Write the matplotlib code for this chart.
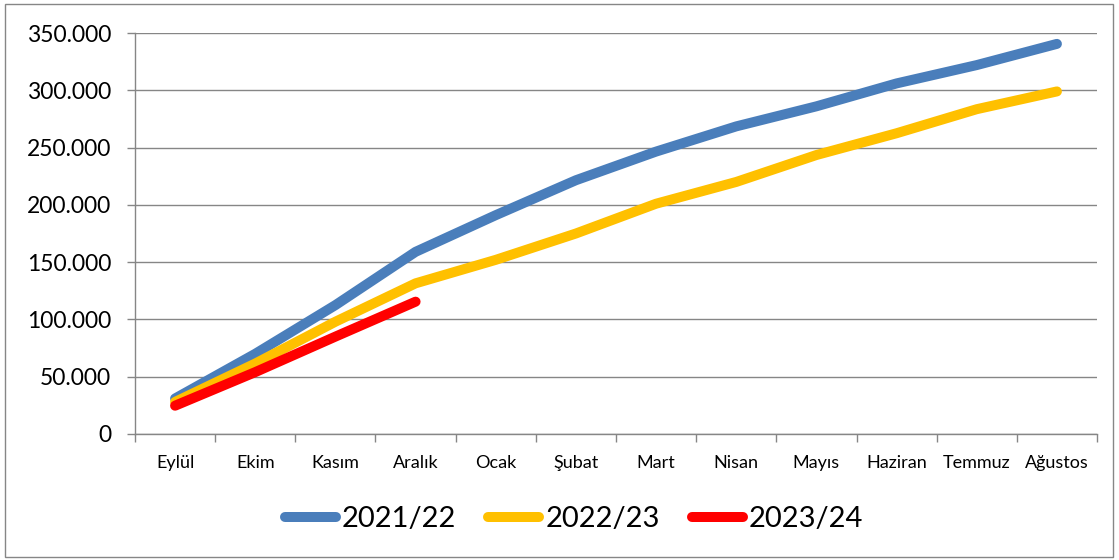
import matplotlib
matplotlib.use("Agg")
import matplotlib.pyplot as plt
from matplotlib.ticker import FuncFormatter, FixedLocator
from matplotlib.patches import Rectangle

plt.rcParams['font.family'] = ['Lato', 'DejaVu Sans']

months = ["Eylül", "Ekim", "Kasım", "Aralık", "Ocak", "Şubat", "Mart",
          "Nisan", "Mayıs", "Haziran", "Temmuz", "Ağustos"]
s2122 = [31000, 70000, 112500, 159000, 191000, 221500, 246500, 268500,
         286000, 306000, 322000, 340500]
s2223 = [28000, 61500, 98000, 131500, 152000, 175000, 201000, 220000,
         243500, 262500, 283500, 299000]
s2324 = [24700, 54000, 85000, 115500]
labels = ["2021/22", "2022/23", "2023/24"]
colors = ["#4a7ebb", "#ffc000", "#ff0000"]

fig = plt.figure(figsize=(11.19, 5.6), dpi=100)
ax = fig.add_axes([135/1119, 1 - 434/560, (1097-135)/1119, (434-33)/560])

x = list(range(len(months)))
for data, lab, col in zip([s2122, s2223, s2324], labels, colors):
    ax.plot(x[:len(data)], data, color=col, lw=7.2, label=lab,
            solid_capstyle='round', solid_joinstyle='round')

ax.set_xlim(-0.5, 11.5)
ax.set_ylim(0, 350000)
ax.set_yticks(range(0, 350001, 50000))
ax.yaxis.set_major_formatter(FuncFormatter(lambda v, p: f"{int(v):,}".replace(",", ".")))
ax.set_xticks(x)
ax.set_xticklabels(months, fontsize=13)
ax.xaxis.set_minor_locator(FixedLocator([i - 0.5 for i in range(13)]))
ax.tick_params(axis='x', which='major', length=0, pad=15)
ax.tick_params(axis='x', which='minor', length=6, color='#868686', width=1)
ax.tick_params(axis='y', length=6, color='#868686', width=1, labelsize=16.5, pad=11)
ax.grid(axis='y', color='#868686', lw=1)
ax.set_axisbelow(True)
for sp in ['top', 'right']:
    ax.spines[sp].set_visible(False)
for sp in ['left', 'bottom']:
    ax.spines[sp].set_color('#868686')
    ax.spines[sp].set_linewidth(1)

leg = fig.legend(loc='center', bbox_to_anchor=(0.513, 1 - 519/560), ncol=3,
                 frameon=False, fontsize=21, handlelength=1.75,
                 handletextpad=0.2, columnspacing=1.1)

fig.patches.append(Rectangle((5/1119, 3/560), 1108/1119, 553/560,
                             transform=fig.transFigure, fill=False,
                             edgecolor='#868686', lw=1))

fig.savefig("out.png", dpi=100)
